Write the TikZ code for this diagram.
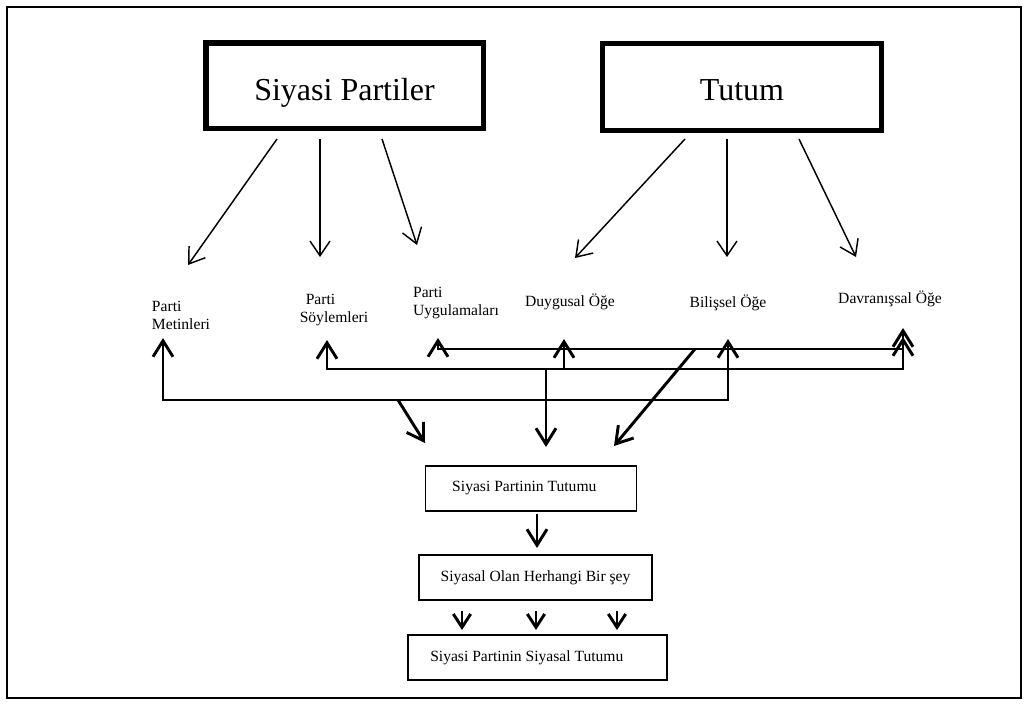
\documentclass[tikz,border=0pt]{standalone}
\usepackage{fontspec}
\setmainfont{Liberation Serif}
\usetikzlibrary{arrows.meta}
\begin{document}
\begin{tikzpicture}[x=0.75pt,y=-0.75pt,
  bigbox/.style={draw, line width=4pt, minimum width=208pt, minimum height=64pt, font=\fontsize{24}{29}\selectfont, inner sep=0pt, text depth=0pt},
  smallbox/.style={draw, line width=1.1pt, minimum height=34pt, font=\fontsize{11.7}{14}\selectfont, inner sep=0pt},
  lbl/.style={font=\fontsize{11.7}{13.5}\selectfont, inner sep=0pt, align=left},
  thinarrow/.style={line width=1.1pt, -{Straight Barb[length=11pt,width=15pt]}},
  thickarrow/.style={line width=2.2pt, -{Straight Barb[length=12pt,width=15pt]}},
  twoway/.style={line width=2.2pt, {Straight Barb[length=12pt,width=15pt]}-{Straight Barb[length=12pt,width=15pt]}},
  shortarrow/.style={line width=2.2pt, -{Straight Barb[length=10pt,width=13pt]}},
]
\useasboundingbox (0,0) rectangle (1026,708);
\draw[line width=1.9pt] (7,7) rectangle (1021,698);

% top boxes
\node[bigbox, text height=21.75pt] (sp) at (344.5,85.5) {Siyasi Partiler};
\node[bigbox, text height=19.5pt, minimum width=209pt, minimum height=65pt] (tu) at (742,87) {Tutum};

% labels
\node[lbl] (pm) at (181,315) {Parti\\Metinleri};
\node[lbl] (ps) at (334,310) {\hspace*{4.5pt}Parti\\Söylemleri};
\node[lbl] (pu) at (456,303) {Parti\\Uygulamaları};
\node[lbl] (du) at (570,302) {Duygusal Öğe};
\node[lbl] (bi) at (728,303) {Bilişsel Öğe};
\node[lbl] (da) at (890,299) {Davranışsal Öğe};

% top arrow coordinates
\coordinate (s1) at (277,139); \coordinate (t1) at (188,265);
\coordinate (s2) at (320,139); \coordinate (t2) at (320,257);
\coordinate (s3) at (382,139); \coordinate (t3) at (417,245);
\coordinate (s4) at (685,139); \coordinate (t4) at (575,258);
\coordinate (s5) at (727,139); \coordinate (t5) at (727,257);
\coordinate (s6) at (799,139); \coordinate (t6) at (856,257);
\draw[thinarrow] (s1) -- (t1);
\draw[thinarrow] (s2) -- (t2);
\draw[thinarrow] (s3) -- (t3);
\draw[thinarrow] (s4) -- (t4);
\draw[thinarrow] (s5) -- (t5);
\draw[thinarrow] (s6) -- (t6);

% lower boxes
\node[smallbox, minimum width=158pt] (b1) at (531,488.5) {Siyasi Partinin Tutumu\hspace*{10pt}};
\node[smallbox, minimum width=175pt] (b2) at (535.5,577.5) {Siyasal Olan Herhangi Bir şey};
\node[smallbox, minimum width=194.5pt] (b3) at (537.5,657.5) {Siyasi Partinin Siyasal Tutumu\hspace*{16pt}};

% network coordinates
\coordinate (mUp) at (163,338);
\coordinate (bUp) at (728,339);
\coordinate (sUp) at (327,340);
\coordinate (dUp1) at (903,328);
\coordinate (uUp) at (438,338);
\coordinate (dUp2) at (903,337);
\coordinate (duUp) at (564,339);
\coordinate (duBase) at (564,369);
\coordinate (dd1s) at (398,400); \coordinate (dd1e) at (425,443);
\coordinate (dd2s) at (546,369); \coordinate (dd2e) at (546,447);
\coordinate (dd3s) at (695,349); \coordinate (dd3e) at (614,446);

\draw[twoway] (mUp) -- (163,400) -- (728,400) -- (bUp);
\draw[twoway] (sUp) -- (327,369) -- (903,369) -- (dUp1);
\draw[twoway] (uUp) -- (438,349) -- (903,349) -- (dUp2);
\draw[thickarrow] (duBase) -- (duUp);
\draw[thickarrow] (dd1s) -- (dd1e);
\draw[thickarrow] (dd2s) -- (dd2e);
\draw[thickarrow] (dd3s) -- (dd3e);

% between lower boxes
\coordinate (c0s) at (537,514); \coordinate (c0e) at (537,548);
\draw[thickarrow] (c0s) -- (c0e);
\coordinate (c1s) at (462,611); \coordinate (c1e) at (462,630);
\coordinate (c2s) at (536,611); \coordinate (c2e) at (536,630);
\coordinate (c3s) at (617,611); \coordinate (c3e) at (617,630);
\draw[shortarrow] (c1s) -- (c1e);
\draw[shortarrow] (c2s) -- (c2e);
\draw[shortarrow] (c3s) -- (c3e);
\end{tikzpicture}
\end{document}
